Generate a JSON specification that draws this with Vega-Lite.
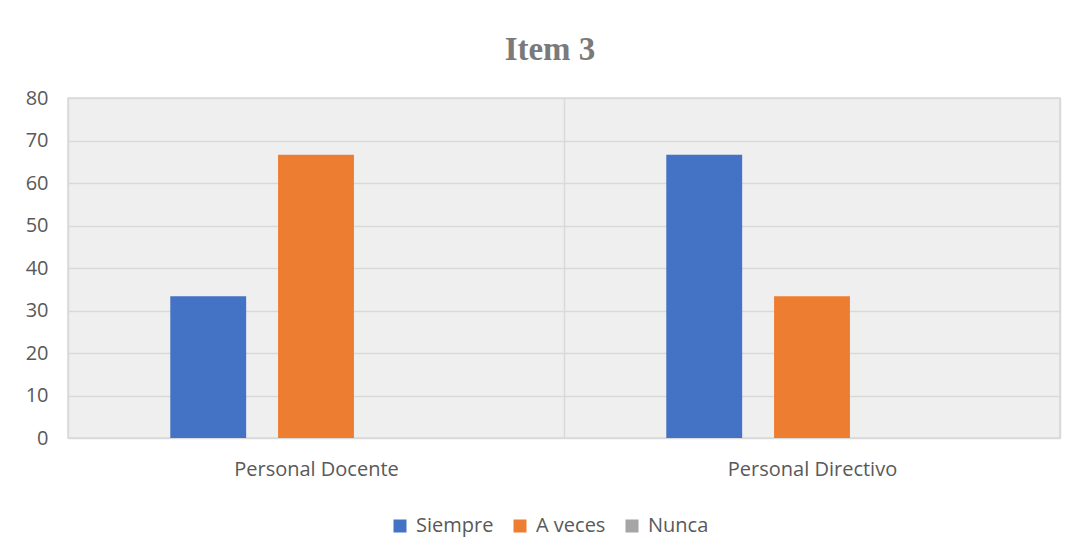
{
  "$schema": "https://vega.github.io/schema/vega-lite/v6.json",
  "width": 992,
  "height": 340,
  "autosize": {"type": "none"},
  "padding": {"left": 68, "top": 98, "right": 16, "bottom": 118},
  "background": "white",
  "title": {
    "text": "Item 3",
    "font": "Liberation Serif",
    "fontSize": 33,
    "fontWeight": "bold",
    "color": "#7a7a7a",
    "anchor": "middle",
    "dx": -14,
    "offset": 21
  },
  "data": {
    "values": [
      {"grupo": "Personal Docente", "serie": "Siempre", "valor": 33.33},
      {"grupo": "Personal Docente", "serie": "A veces", "valor": 66.67},
      {"grupo": "Personal Docente", "serie": "Nunca", "valor": 0},
      {"grupo": "Personal Directivo", "serie": "Siempre", "valor": 66.67},
      {"grupo": "Personal Directivo", "serie": "A veces", "valor": 33.33},
      {"grupo": "Personal Directivo", "serie": "Nunca", "valor": 0}
    ]
  },
  "mark": {"type": "bar"},
  "encoding": {
    "x": {
      "field": "grupo",
      "type": "nominal",
      "sort": ["Personal Docente", "Personal Directivo"],
      "scale": {"paddingInner": 0, "paddingOuter": 0},
      "axis": {
        "title": null,
        "labelAngle": 0,
        "labelFont": "Open Sans",
        "labelFontSize": 20,
        "labelColor": "#595959",
        "labelPadding": 21,
        "ticks": false,
        "domain": false,
        "grid": true,
        "gridColor": "#d9d9d9",
        "gridWidth": 1.5,
        "tickBand": "extent"
      }
    },
    "xOffset": {
      "field": "serie",
      "type": "nominal",
      "sort": ["Siempre", "A veces", "Nunca"],
      "scale": {"paddingInner": 0.296, "paddingOuter": 0.949}
    },
    "y": {
      "field": "valor",
      "type": "quantitative",
      "scale": {"domain": [0, 80]},
      "axis": {
        "title": null,
        "values": [0, 10, 20, 30, 40, 50, 60, 70, 80],
        "labelFont": "Open Sans",
        "labelFontSize": 20,
        "labelColor": "#595959",
        "labelPadding": 20,
        "ticks": false,
        "domain": false,
        "gridColor": "#d9d9d9",
        "gridWidth": 1.5
      }
    },
    "color": {
      "field": "serie",
      "type": "nominal",
      "sort": ["Siempre", "A veces", "Nunca"],
      "scale": {"domain": ["Siempre", "A veces", "Nunca"], "range": ["#4472C4", "#ED7D31", "#A5A5A5"]},
      "legend": {
        "title": null,
        "orient": "none",
        "direction": "horizontal",
        "legendX": 322,
        "legendY": 418,
        "symbolType": "square",
        "symbolSize": 169,
        "symbolStrokeWidth": 0,
        "labelFont": "Open Sans",
        "labelFontSize": 20,
        "labelColor": "#595959",
        "columnPadding": 16,
        "labelOffset": 6
      }
    }
  },
  "config": {
    "view": {"fill": "#efefef", "stroke": "#d9d9d9", "strokeWidth": 1.5}
  }
}
